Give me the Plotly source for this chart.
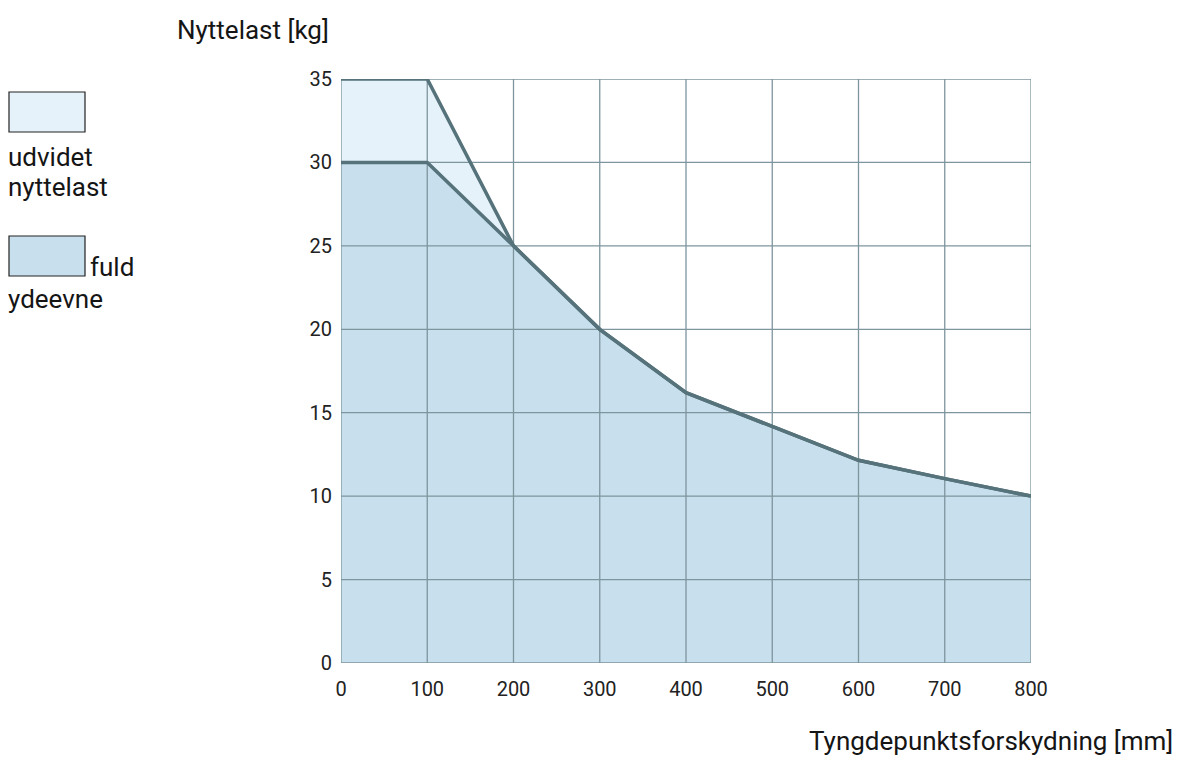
import plotly.graph_objects as go

# ---- data ----
offset_mm = [0, 100, 200, 300, 400, 500, 600, 700, 800]
full_payload = [30, 30, 25, 20, 16.2, 14.15, 12.15, 11.05, 10]
extended_payload = [35, 35, 25, 20, 16.2, 14.15, 12.15, 11.05, 10]
x_ticks = [0, 100, 200, 300, 400, 500, 600, 700, 800]
y_ticks = [0, 5, 10, 15, 20, 25, 30, 35]
legend_lines_1 = ["udvidet", "nyttelast"]
legend_lines_2 = ["fuld", "ydeevne"]

OFF = 8  # page body margin
W, H = 1182 - 2 * OFF, 774 - 2 * OFF
# plot area in screen pixels
SL, SR, ST, SB = 341, 1031, 79, 663
L, R, T, B = SL - OFF, SR - OFF, ST - OFF, SB - OFF
TICKFONT = "Roboto"
LABFONT = "Roboto"
LINE = "#56727b"
GRID = "#7e959e"
LIGHT = "#e6f2f9"
DARK = "#c8e0ed"


def px(x):
    return (x - SL) / (SR - SL)


def py(y):
    return (SB - y) / (SB - ST)


fig = go.Figure()
fig.add_trace(go.Scatter(x=offset_mm, y=extended_payload, fill="tozeroy",
                         fillcolor=LIGHT, mode="none", hoverinfo="skip"))
fig.add_trace(go.Scatter(x=offset_mm, y=full_payload, fill="tozeroy",
                         fillcolor=DARK, mode="none", hoverinfo="skip"))

# grid lines drawn above fills
gx, gy = [], []
for t in x_ticks:
    gx += [t, t, None]
    gy += [y_ticks[0], y_ticks[-1], None]
for t in y_ticks:
    gx += [x_ticks[0], x_ticks[-1], None]
    gy += [t, t, None]
fig.add_trace(go.Scatter(x=gx, y=gy, mode="lines", line=dict(color=GRID, width=1.3),
                         hoverinfo="skip", cliponaxis=False, connectgaps=False))

fig.add_trace(go.Scatter(x=offset_mm, y=extended_payload, mode="lines",
                         line=dict(color=LINE, width=3.5), cliponaxis=False, hoverinfo="skip"))
fig.add_trace(go.Scatter(x=offset_mm, y=full_payload, mode="lines",
                         line=dict(color=LINE, width=3.5), cliponaxis=False, hoverinfo="skip"))

fig.update_xaxes(range=[0, 800], tickvals=x_ticks, showgrid=False, zeroline=False,
                 showline=False, ticks="", ticklabelstandoff=12,
                 tickfont=dict(family=TICKFONT, size=20, color="#222"))
fig.update_yaxes(range=[0, 35], tickvals=y_ticks, showgrid=False, zeroline=False,
                 showline=False, ticks="", ticklabelstandoff=8,
                 tickfont=dict(family=TICKFONT, size=20, color="#222"))

shapes = [
    dict(type="rect", xref="paper", yref="paper", x0=px(9), x1=px(85), y0=py(132), y1=py(92),
         fillcolor=LIGHT, line=dict(color="#222", width=1.2)),
    dict(type="rect", xref="paper", yref="paper", x0=px(9), x1=px(85), y0=py(276), y1=py(236),
         fillcolor=DARK, line=dict(color="#222", width=1.2)),
]

tf = dict(family=LABFONT, size=26, color="#151515")


def ann(text, x, y, xanchor="left"):
    return dict(text=text, xref="paper", yref="paper", x=px(x), y=py(y),
                xanchor=xanchor, yanchor="middle", showarrow=False, font=tf)


annotations = [
    ann("Nyttelast [kg]", 175, 30),
    ann("Tyngdepunktsforskydning [mm]", 1175, 741, "right"),
    ann(legend_lines_1[0], 6, 157),
    ann(legend_lines_1[1], 6, 187),
    ann(legend_lines_2[0], 88, 267),
    ann(legend_lines_2[1], 6, 299),
]

fig.update_layout(width=W, height=H, margin=dict(l=L, r=W - R, t=T, b=H - B),
                  paper_bgcolor="white", plot_bgcolor="white", showlegend=False,
                  shapes=shapes, annotations=annotations,
                  font=dict(family=TICKFONT))
fig.write_html("out.html")
